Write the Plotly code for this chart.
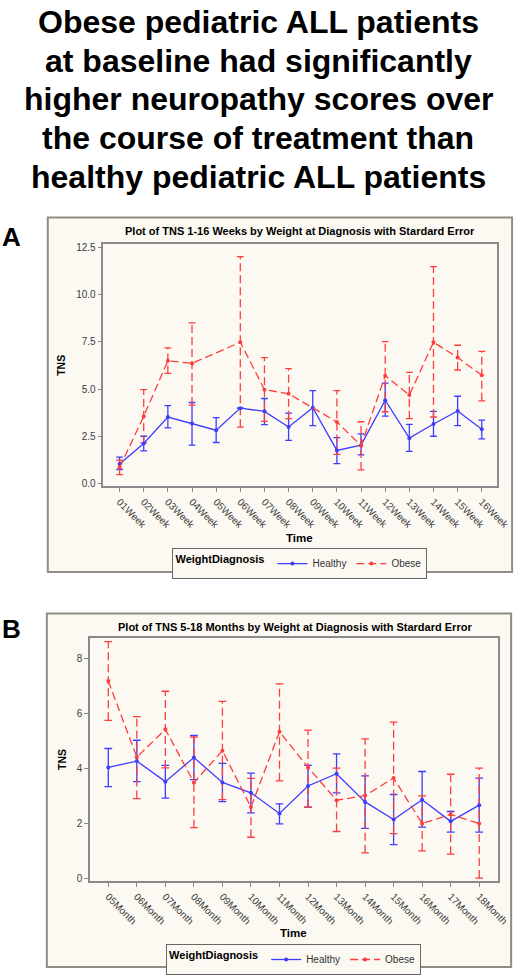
import plotly.graph_objects as go

# ---------------- Data ----------------
weeks = ["01Week", "02Week", "03Week", "04Week", "05Week", "06Week", "07Week", "08Week",
         "09Week", "10Week", "11Week", "12Week", "13Week", "14Week", "15Week", "16Week"]
healthy_w = [1.03, 2.12, 3.52, 3.17, 2.82, 3.99, 3.82, 2.99, 4.01, 1.75, 2.03, 4.41, 2.40, 3.15, 3.84, 2.87]
healthy_w_hi = [1.40, 2.50, 4.12, 4.29, 3.49, 3.99, 4.50, 3.73, 4.92, 2.43, 2.63, 5.31, 3.13, 3.82, 4.62, 3.35]
healthy_w_lo = [0.74, 1.73, 2.94, 2.03, 2.17, 3.99, 3.12, 2.28, 3.06, 1.05, 1.51, 3.57, 1.70, 2.50, 3.06, 2.36]
obese_w = [0.84, 3.56, 6.50, 6.36, None, 7.48, 4.97, 4.75, None, 3.26, 2.00, 5.71, 4.68, 7.48, 6.67, 5.73]
obese_w_hi = [1.24, 4.97, 7.18, 8.51, None, 12.01, 6.67, 6.08, None, 4.92, 3.27, 7.51, 5.88, 11.49, 7.32, 7.00]
obese_w_lo = [0.47, 2.15, 5.83, 4.15, None, 2.98, 3.29, 3.43, None, 1.54, 0.72, 3.80, 3.43, 3.52, 6.01, 4.38]

months = ["05Month", "06Month", "07Month", "08Month", "09Month", "10Month", "11Month",
          "12Month", "13Month", "14Month", "15Month", "16Month", "17Month", "18Month"]
healthy_m = [4.04, 4.27, 3.52, 4.40, 3.49, 3.11, 2.36, 3.36, 3.81, 2.78, 2.14, 2.86, 2.07, 2.66]
healthy_m_hi = [4.73, 5.03, 4.11, 5.21, 4.19, 3.83, 2.71, 4.11, 4.53, 3.73, 3.05, 3.89, 2.43, 3.65]
healthy_m_lo = [3.34, 3.52, 2.92, 3.59, 2.79, 2.38, 1.98, 2.59, 3.11, 1.81, 1.22, 1.86, 1.68, 1.68]
obese_m = [7.19, 4.41, 5.43, 3.49, 4.65, 2.59, 5.34, 4.04, 2.84, 3.01, 3.65, 1.99, 2.32, 1.99]
obese_m_hi = [8.63, 5.89, 6.82, 5.15, 6.45, 3.64, 7.09, 5.40, 4.01, 5.08, 5.69, 3.00, 3.79, 4.01]
obese_m_lo = [5.76, 2.90, 4.02, 1.84, 2.86, 1.49, 3.55, 2.59, 1.70, 0.92, 1.62, 0.99, 0.87, 0.00]

title_text = ["Obese pediatric ALL patients", "at baseline had significantly",
              "higher neuropathy scores over", "the course of treatment than",
              "healthy pediatric ALL patients"]

# ---------------- Style ----------------
W, H = 529, 975
BLUE = "#3d3dff"
RED = "#ff3d3d"
DASH = "8px,4px"
FONT = "Liberation Sans, Arial, sans-serif"
CREAM = "#fbf9f2"
FRAME = "#8e8c84"
AXIS = "#8a8a8a"
TICKC = "#3c3c3c"


def px(x):
    return x / W


def py(y):
    return 1 - y / H


def whisker_xy(lo, hi):
    xs, ys = [], []
    for i, (a, b) in enumerate(zip(lo, hi)):
        if a is None or b is None:
            continue
        xs += [i, i, None]
        ys += [a, b, None]
    return xs, ys


def cap_xy(lo, hi, hw):
    xs, ys = [], []
    for i, (a, b) in enumerate(zip(lo, hi)):
        if a is None or b is None:
            continue
        xs += [i - hw, i + hw, None, i - hw, i + hw, None]
        ys += [b, b, None, a, a, None]
    return xs, ys


fig = go.Figure()


def add_panel(xa, ya, leg, h, h_hi, h_lo, o, o_hi, o_lo, hw):
    wx, wy = whisker_xy(h_lo, h_hi)
    fig.add_trace(go.Scatter(x=wx, y=wy, mode="lines", line=dict(color=BLUE, width=1.3),
                             showlegend=False, hoverinfo="skip", xaxis=xa, yaxis=ya))
    cx, cy = cap_xy(h_lo, h_hi, hw)
    fig.add_trace(go.Scatter(x=cx, y=cy, mode="lines", line=dict(color=BLUE, width=1.3),
                             showlegend=False, hoverinfo="skip", xaxis=xa, yaxis=ya))
    wx, wy = whisker_xy(o_lo, o_hi)
    fig.add_trace(go.Scatter(x=wx, y=wy, mode="lines", line=dict(color=RED, width=1.3, dash=DASH),
                             showlegend=False, hoverinfo="skip", xaxis=xa, yaxis=ya))
    cx, cy = cap_xy(o_lo, o_hi, hw)
    fig.add_trace(go.Scatter(x=cx, y=cy, mode="lines", line=dict(color=RED, width=1.3),
                             showlegend=False, hoverinfo="skip", xaxis=xa, yaxis=ya))
    fig.add_trace(go.Scatter(x=list(range(len(h))), y=h, mode="lines+markers", name="Healthy",
                             line=dict(color=BLUE, width=1.3), marker=dict(color=BLUE, size=4),
                             legend=leg, xaxis=xa, yaxis=ya))
    fig.add_trace(go.Scatter(x=list(range(len(o))), y=o, mode="lines+markers", name="Obese",
                             connectgaps=True,
                             line=dict(color=RED, width=1.3, dash=DASH), marker=dict(color=RED, size=4),
                             legend=leg, xaxis=xa, yaxis=ya))


add_panel("x", "y", "legend", healthy_w, healthy_w_hi, healthy_w_lo,
          obese_w, obese_w_hi, obese_w_lo, 0.14)
add_panel("x2", "y2", "legend2", healthy_m, healthy_m_hi, healthy_m_lo,
          obese_m, obese_m_hi, obese_m_lo, 0.135)

axis_common = dict(showgrid=False, zeroline=False, showline=True, mirror=True,
                   linecolor=AXIS, linewidth=1.5, ticks="outside", ticklen=4,
                   tickcolor=AXIS, tickfont=dict(family=FONT, size=10, color=TICKC),
                   fixedrange=True)

legend_common = dict(orientation="h", xanchor="center", yanchor="top",
                     bgcolor=CREAM, bordercolor="#666666", borderwidth=1,
                     itemwidth=30, tracegroupgap=0,
                     font=dict(family=FONT, size=10, color="#333333"),
                     title=dict(text="<b>WeightDiagnosis</b>", side="left",
                                font=dict(family=FONT, size=11, color="black")))

fig.update_layout(
    width=W, height=H,
    margin=dict(l=0, r=0, t=0, b=0),
    paper_bgcolor="white", plot_bgcolor="white",
    font=dict(family=FONT),
    xaxis=dict(domain=[px(106), px(510)], range=[-0.67, 15.65], anchor="y",
               tickvals=list(range(len(weeks))), ticktext=weeks, tickangle=45, **axis_common),
    yaxis=dict(domain=[py(488), py(244)], range=[-0.16, 12.67], anchor="x",
               tickvals=[0, 2.5, 5, 7.5, 10, 12.5], tickformat=".1f", **axis_common),
    xaxis2=dict(domain=[px(92.3), px(510.3)], range=[-0.64, 13.65], anchor="y2",
                tickvals=list(range(len(months))), ticktext=months, tickangle=45, **axis_common),
    yaxis2=dict(domain=[py(885.7), py(640.7)], range=[-0.12, 8.76], anchor="x2",
                tickvals=[0, 2, 4, 6, 8], **axis_common),
    legend=dict(x=px(307.5), y=py(550), **legend_common),
    legend2=dict(x=px(301), y=py(949), **legend_common),
)

# Panel frames
for (x0, y0, x1, y1) in [(49, 217, 525, 574), (48, 616, 524, 972)]:
    fig.add_shape(type="rect", xref="paper", yref="paper",
                  x0=px(x0), x1=px(x1), y0=py(y1), y1=py(y0),
                  fillcolor=CREAM, line=dict(color=FRAME, width=2), layer="below")

# Main title, one annotation per line
for line, yc in zip(title_text, [20, 59, 98, 137, 176]):
    fig.add_annotation(text="<b>" + line + "</b>", xref="paper", yref="paper",
                       x=px(265), y=py(yc), xanchor="center", yanchor="middle", showarrow=False,
                       font=dict(family=FONT, size=32, color="black"))

annos = [
    ("<b>A</b>", 12, 237, 26, 0),
    ("<b>B</b>", 12, 632, 26, 0),
    ("<b>Plot of TNS 1-16 Weeks by Weight at Diagnosis with Stardard Error</b>", 308, 231, 11, 0),
    ("<b>Plot of TNS 5-18 Months by Weight at Diagnosis with Stardard Error</b>", 302, 630, 11, 0),
    ("<b>Time</b>", 307, 540, 11.5, 0),
    ("<b>Time</b>", 301, 938, 11.5, 0),
    ("<b>TNS</b>", 63, 366, 10.5, -90),
    ("<b>TNS</b>", 63, 763, 10.5, -90),
]
for t, x, y, s, ang in annos:
    fig.add_annotation(text=t, xref="paper", yref="paper", x=px(x), y=py(y),
                       xanchor="center", yanchor="middle", showarrow=False, textangle=ang,
                       font=dict(family=FONT, size=s, color="black"))

fig.write_html("out.html", config={"displayModeBar": False},
               post_script="document.body.style.margin='0';")
